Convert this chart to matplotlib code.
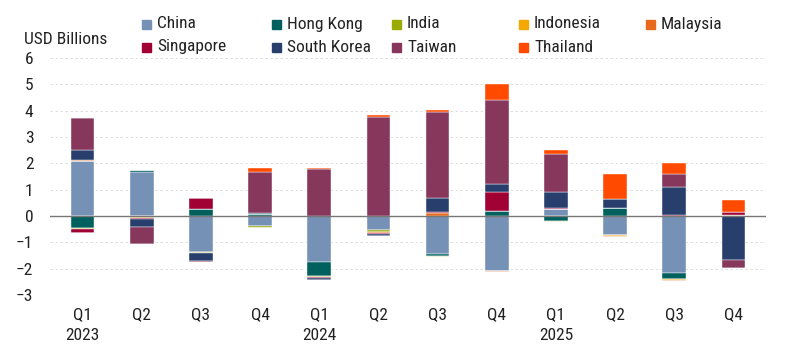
import matplotlib
matplotlib.use("Agg")
import matplotlib.pyplot as plt
from matplotlib.patches import Rectangle
import numpy as np

plt.rcParams["font.family"] = ["Roboto Condensed", "DejaVu Sans"]

quarters = ["Q1\n2023", "Q2", "Q3", "Q4", "Q1\n2024", "Q2", "Q3", "Q4",
            "Q1\n2025", "Q2", "Q3", "Q4"]

# net flows per market, USD billions
china       = [2.09, 1.68, -1.35, -0.38, -1.76, -0.53, -1.44, -2.08, 0.27, -0.73, -2.15, 0.00]
hong_kong   = [-0.46, 0.05, 0.27, 0.06, -0.52, 0.00, -0.06, 0.18, -0.19, 0.29, -0.24, 0.00]
india       = [-0.05, -0.04, -0.06, -0.06, -0.05, -0.09, -0.05, 0.00, -0.03, 0.00, 0.00, 0.03]
indonesia   = [0.00, -0.02, 0.00, 0.00, 0.00, 0.00, 0.00, -0.01, 0.00, -0.02, -0.03, 0.00]
malaysia    = [0.04, -0.03, 0.00, 0.00, 0.00, -0.02, 0.11, -0.02, -0.02, -0.03, -0.06, 0.00]
singapore   = [-0.15, -0.03, 0.42, 0.00, -0.03, -0.03, 0.04, 0.75, 0.05, 0.00, 0.05, 0.14]
south_korea = [0.38, -0.28, -0.29, 0.04, -0.06, -0.10, 0.52, 0.30, 0.61, 0.34, 1.06, -1.67]
taiwan      = [1.20, -0.68, -0.04, 1.56, 1.78, 3.77, 3.29, 3.19, 1.43, 0.00, 0.49, -0.29]
thailand    = [0.00, 0.00, 0.00, 0.16, 0.06, 0.05, 0.06, 0.59, 0.15, 0.95, 0.42, 0.44]

names = ["China", "Hong Kong", "India", "Indonesia", "Malaysia",
         "Singapore", "South Korea", "Taiwan", "Thailand"]
series = [china, hong_kong, india, indonesia, malaysia,
          singapore, south_korea, taiwan, thailand]
colors = ["#7591B5", "#00605E", "#9BAA00", "#F5A800", "#E8691B",
          "#A00034", "#283F6E", "#86375B", "#FF4A00"]

fig = plt.figure(figsize=(7.96, 3.59), dpi=100)
fig.patch.set_facecolor("white")
W, H = 796, 359
ax = fig.add_axes([50 / W, 1 - 295 / H, 716 / W, 237 / H])

x = np.arange(len(quarters))
pos_base = np.zeros(len(quarters))
neg_base = np.zeros(len(quarters))
for vals, c in zip(series, colors):
    v = np.array(vals)
    pos = np.where(v > 0, v, 0)
    neg = np.where(v < 0, v, 0)
    ax.bar(x, pos, 0.4, bottom=pos_base, color=c, edgecolor="white",
           linewidth=0.3, zorder=3)
    ax.bar(x, neg, 0.4, bottom=neg_base, color=c, edgecolor="white",
           linewidth=0.3, zorder=3)
    pos_base += pos
    neg_base += neg

ax.set_xlim(-0.55, 11.55)
ax.set_ylim(-3, 6)
ax.set_yticks(range(-3, 7))
ax.set_xticks(x)
ax.set_xticklabels(quarters, linespacing=1.45)
ax.tick_params(axis="both", length=0, labelsize=12.5, colors="#222")
ax.tick_params(axis="y", pad=12)
ax.tick_params(axis="x", pad=9)
ax.grid(axis="y", color="#d9d9d9", linestyle=(0, (3, 3)), linewidth=0.6, zorder=0)
ax.axhline(0, color="#777777", linewidth=1.0, zorder=4)
for s in ax.spines.values():
    s.set_visible(False)

# unit label and legend (manual, uneven columns)
fig.text(24 / W, 1 - 40 / H, "USD Billions", fontsize=12.5, color="#222",
         ha="left", va="center")
col_x = [142, 272, 392, 519, 646]
row_y = [24, 47]
for i, (n, c) in enumerate(zip(names, colors)):
    r, k = divmod(i, 5)
    mx, my = col_x[k], row_y[r]
    fig.patches.append(Rectangle((mx / W, 1 - (my + 4.5) / H), 9 / W, 9 / H,
                                 transform=fig.transFigure, color=c))
    fig.text((mx + 15) / W, 1 - my / H, n, fontsize=12.5, color="#222",
             ha="left", va="center")

fig.savefig("out.png", dpi=100, facecolor="white")
